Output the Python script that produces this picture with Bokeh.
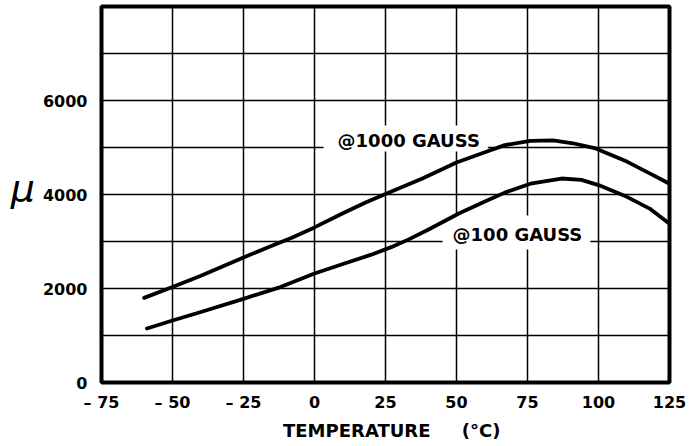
from bokeh.plotting import figure
from bokeh.models import Range1d, FixedTicker, Label
from bokeh.embed import file_html
from bokeh.resources import INLINE

# ---- data ----
temp_1000 = [-60, -50, -40, -25, -15, -8, 0, 10, 18, 25, 38, 50, 60, 67, 76, 84, 91, 99, 110, 118, 125]
mu_1000 = [1800, 2030, 2270, 2660, 2910, 3080, 3300, 3600, 3830, 4010, 4340, 4680, 4900, 5050, 5140, 5150, 5090, 4980, 4700, 4450, 4230]

temp_100 = [-59, -50, -40, -25, -12, 0, 10, 20, 27, 33, 40, 51, 60, 67, 76, 87, 94, 100, 110, 118, 125]
mu_100 = [1150, 1320, 1500, 1780, 2030, 2320, 2520, 2720, 2880, 3040, 3250, 3600, 3850, 4040, 4230, 4340, 4310, 4200, 3950, 3700, 3380]

x_ticks = [-75, -50, -25, 0, 25, 50, 75, 100, 125]
x_tick_labels = ["\u2013 75", "\u2013 50", "\u2013 25", "0", "25", "50", "75", "100", "125"]
y_ticks = [0, 2000, 4000, 6000]
y_grid = [1000, 2000, 3000, 4000, 5000, 6000, 7000]

label_1000 = "@1000 GAUSS"
label_100 = "@100 GAUSS"
x_title = "\u00a0\u00a0TEMPERATURE\u00a0\u00a0\u00a0\u00a0\u00a0(\u00b0C)"
y_title = "\u03bc\n\u00a0"

FONT = "DejaVu Sans"

p = figure(width=690, height=445, output_backend="svg", toolbar_location=None,
           x_range=Range1d(-75, 125), y_range=Range1d(0, 8000),
           min_border_left=101, min_border_right=21, min_border_top=6, min_border_bottom=63)
p.background_fill_color = "white"
p.border_fill_color = "white"
p.outline_line_color = "black"
p.outline_line_width = 4

for ax in (p.xaxis, p.yaxis):
    ax.axis_line_color = None
    ax.major_tick_line_color = None
    ax.minor_tick_line_color = None
    ax.major_label_text_font = FONT
    ax.major_label_text_font_style = "bold"
    ax.major_label_text_font_size = "16px"
    ax.major_label_text_color = "black"

p.xaxis.ticker = FixedTicker(ticks=x_ticks)
p.xaxis.major_label_overrides = dict(zip(x_ticks, x_tick_labels))
p.xaxis.major_label_standoff = 4
p.yaxis.ticker = FixedTicker(ticks=y_ticks)
p.yaxis.major_label_standoff = 8

p.xaxis.axis_label = x_title
p.xaxis.axis_label_text_font = FONT
p.xaxis.axis_label_text_font_style = "bold"
p.xaxis.axis_label_text_font_size = "18px"
p.xaxis.axis_label_text_color = "black"
p.xaxis.axis_label_standoff = 5

p.yaxis.axis_label = y_title
p.yaxis.axis_label_orientation = "horizontal"
p.yaxis.axis_label_text_font = FONT
p.yaxis.axis_label_text_font_style = "italic"
p.yaxis.axis_label_text_font_size = "38px"
p.yaxis.axis_label_text_color = "black"
p.yaxis.axis_label_text_line_height = 0.3
p.yaxis.axis_label_standoff = 5

p.xgrid.ticker = FixedTicker(ticks=x_ticks)
p.ygrid.ticker = FixedTicker(ticks=y_grid)
for g in (p.xgrid, p.ygrid):
    g.grid_line_color = "black"
    g.grid_line_width = 1.5
    g.grid_line_alpha = 1.0

p.line(temp_1000, mu_1000, line_color="black", line_width=3.8, line_join="round", line_cap="round")
p.line(temp_100, mu_100, line_color="black", line_width=3.8, line_join="round", line_cap="round")

lab1 = Label(x=3.2, y=5190, text=label_1000, text_font=FONT, text_font_style="bold",
             text_font_size="18px", text_color="black", text_align="left", text_baseline="alphabetic",
             background_fill_color="white", padding=dict(left=14, right=8, top=4, bottom=1),
             level="underlay")
lab2 = Label(x=45.1, y=3190, text=label_100, text_font=FONT, text_font_style="bold",
             text_font_size="18px", text_color="black", text_align="left", text_baseline="alphabetic",
             background_fill_color="white", padding=dict(left=10, right=8, top=8, bottom=5),
             level="underlay")
p.add_layout(lab1)
p.add_layout(lab2)

open("out.html", "w").write(file_html(p, INLINE))
